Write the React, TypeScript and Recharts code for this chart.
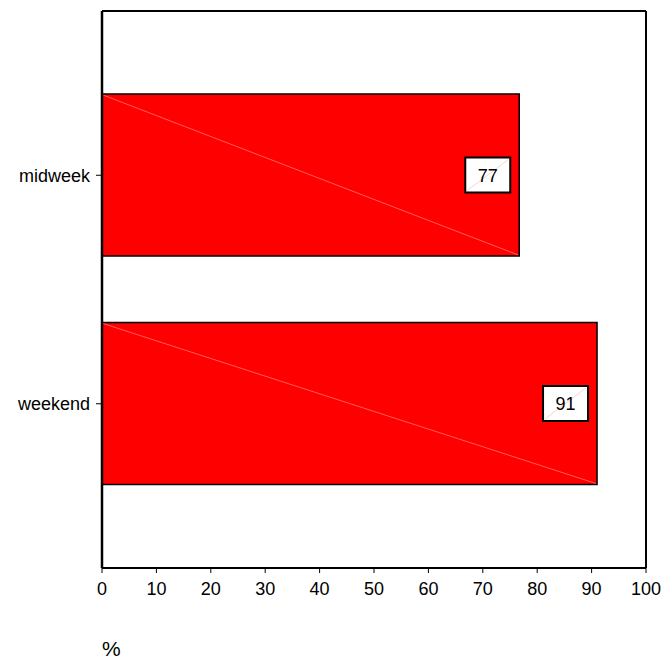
import React from 'react';
import { BarChart, Bar, XAxis, YAxis, LabelList, CartesianGrid } from 'recharts';

const categories = ['midweek', 'weekend'];
const percentValues = [76.7, 91];
const xTicks = [0, 10, 20, 30, 40, 50, 60, 70, 80, 90, 100];
const axisUnit = '%';

const data = categories.map((name, i) => ({ name, value: percentValues[i] }));

const FONT = '"Liberation Sans", Arial, Helvetica, sans-serif';

const BarShape = (props: any) => {
  const { x, y, width, height } = props;
  return (
    <g>
      <rect x={x} y={y} width={width} height={height} fill="#ff0000" stroke="#000" strokeWidth={1.5} />
      <line x1={x + 1} y1={y + 1} x2={x + width - 1} y2={y + height - 1} stroke="#ff9a9a" strokeWidth={0.6} />
    </g>
  );
};

const ValueBox = (props: any) => {
  const { x, y, width, height, value } = props;
  const bw = 45;
  const bh = 35;
  const bx = x + width - 9 - bw;
  const by = y + height / 2 - bh / 2;
  return (
    <g>
      <rect x={bx} y={by} width={bw} height={bh} fill="#fff" stroke="#000" strokeWidth={2} />
      <line x1={bx + 2} y1={by + bh - 2} x2={bx + bw - 2} y2={by + 2} stroke="#ffb0b0" strokeWidth={0.6} />
      <text x={bx + bw / 2} y={by + bh / 2 + 6.5} textAnchor="middle" fontSize={18} fontFamily={FONT} fill="#000">
        {Math.round(value)}
      </text>
    </g>
  );
};

const UnitLabel = (props: any) => {
  const vb = props.viewBox || {};
  return (
    <text x={vb.x} y={vb.y + 88} fontSize={21} fontFamily={FONT} fill="#000" textAnchor="start">
      {axisUnit}
    </text>
  );
};

export default function App() {
  return (
    <div style={{ position: 'absolute', left: 0, top: 0, width: 665, height: 660 }}>
      <BarChart
        width={665}
        height={660}
        data={data}
        layout="vertical"
        margin={{ top: 11, right: 19, left: 8, bottom: 0 }}
        barSize={162}
      >
        <CartesianGrid
          stroke="#000"
          strokeWidth={2}
          horizontalCoordinatesGenerator={(p: any) => [p.offset.top]}
          verticalCoordinatesGenerator={(p: any) => [p.offset.left + p.offset.width]}
        />
        <XAxis
          type="number"
          dataKey="value"
          domain={[0, 100]}
          ticks={xTicks}
          interval={0}
          height={92}
          tickSize={5}
          tickMargin={9}
          axisLine={{ stroke: '#000', strokeWidth: 2 }}
          tickLine={{ stroke: '#000', strokeWidth: 1 }}
          tick={{ fill: '#000', fontSize: 18, fontFamily: FONT }}
          label={<UnitLabel />}
        />
        <YAxis
          type="category"
          dataKey="name"
          width={94}
          padding={{ top: 50, bottom: 50 }}
          tickSize={6}
          tickMargin={6}
          axisLine={{ stroke: '#000', strokeWidth: 2.5 }}
          tickLine={{ stroke: '#000', strokeWidth: 1 }}
          tick={{ fill: '#000', fontSize: 18, fontFamily: FONT }}
        />
        <Bar dataKey="value" isAnimationActive={false} shape={<BarShape />}>
          <LabelList dataKey="value" content={<ValueBox />} />
        </Bar>
      </BarChart>
    </div>
  );
}
